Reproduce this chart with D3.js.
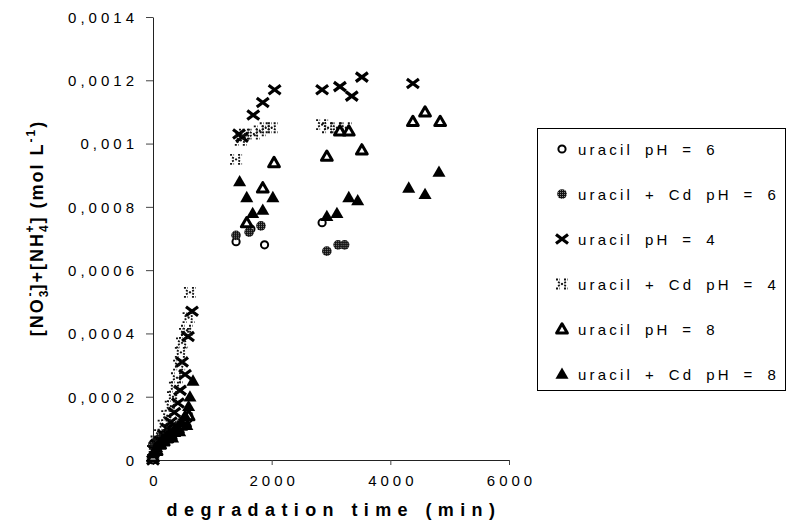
<!DOCTYPE html>
<html>
<head>
<meta charset="utf-8">
<script src="https://cdn.jsdelivr.net/npm/d3@7"></script>
<style>
  body { margin: 0; background: #fff; }
  text { font-family: "Liberation Sans", Arial, sans-serif; fill: #000; }
</style>
</head>
<body>
<svg id="chart"></svg>
<script>
// tick labels
const xTicks = [0, 2000, 4000, 6000]
const yTicks = [0, 0.0002, 0.0004, 0.0006, 0.0008, 0.001, 0.0012, 0.0014]
const yTickLabels = ["0", "0,0002", "0,0004", "0,0006", "0,0008", "0,001", "0,0012", "0,0014"]

// uracil pH = 6
const timeU6 = [0, 30, 60, 120, 180, 240, 300, 360, 420, 480, 540, 600, 1400, 1650, 1880, 2850]
const valU6 = [0, 0.00004, 0.00005, 0.00006, 0.00006, 0.00007, 0.00008, 0.00009, 0.0001, 0.00011, 0.00012, 0.00013,
    0.00069, 0.00073, 0.00068, 0.00075]

// uracil + Cd pH = 6
const timeCd6 = [0, 30, 60, 90, 120, 150, 180, 240, 270, 300, 360, 420, 480, 540, 600, 1400, 1620, 1820, 2930, 3120, 3230]
const valCd6 = [0.00005, 0.00005, 0.00006, 0.00006, 0.00007, 0.00006, 0.00007, 0.00008, 0.00007, 0.00009, 0.0001, 0.00011, 0.00012, 0.00013, 0.00014,
    0.00071, 0.00072, 0.00074, 0.00066, 0.00068, 0.00068]

// uracil pH = 4
const timeU4 = [0, 30, 60, 120, 180, 240, 300, 360, 420, 455, 490, 540, 590, 657,
    1450, 1500, 1690, 1850, 2050, 2850, 3150, 3350, 3520, 4380]
const valU4 = [0, 0.00003, 0.00005, 0.00006, 0.00008, 0.0001, 0.00012, 0.00015, 0.00018, 0.00022, 0.00031, 0.00027, 0.00039, 0.00047,
    0.00103, 0.00102, 0.00109, 0.00113, 0.00117, 0.00117, 0.00118, 0.00115, 0.00121, 0.00119]

// uracil + Cd pH = 4
const timeCd4 = [0, 30, 60, 120, 180, 240, 300, 337, 370, 404, 440, 470, 489, 540, 573, 600, 623,
    1400, 1480, 1550, 1700, 1800, 1900, 2000, 2850, 2950, 3100, 3250]
const valCd4 = [0.00003, 0.00004, 0.00006, 0.00008, 0.00011, 0.00014, 0.00017, 0.0002, 0.00023, 0.00026, 0.0003, 0.00034, 0.00037, 0.0004, 0.00041, 0.00045, 0.00053,
    0.00095, 0.00101, 0.00103, 0.00103, 0.00104, 0.00105, 0.00105, 0.00106, 0.00105, 0.00105, 0.00105]

// uracil pH = 8
const timeU8 = [0, 60, 120, 180, 240, 300, 360, 420, 480, 540, 600,
    1580, 1850, 2040, 2930, 3150, 3300, 3520, 4380, 4585, 4840]
const valU8 = [0.00001, 0.00003, 0.00005, 0.00006, 0.00007, 0.00008, 0.00009, 0.0001, 0.00011, 0.00012, 0.00014,
    0.00075, 0.00086, 0.00094, 0.00096, 0.00104, 0.00104, 0.00098, 0.00107, 0.0011, 0.00107]

// uracil + Cd pH = 8
const timeCd8 = [0, 30, 60, 120, 180, 240, 300, 330, 360, 420, 450, 480, 540, 570, 600, 623, 674,
    1460, 1580, 1680, 1850, 2020, 2930, 3100, 3300, 3450, 4310, 4585, 4820]
const valCd8 = [0.00002, 0.00003, 0.00004, 0.00005, 0.00006, 0.00007, 0.00008, 0.00007, 0.00009, 0.0001, 0.00009, 0.00012, 0.00014, 0.00011, 0.00017, 0.0002, 0.00025,
    0.00088, 0.00083, 0.00078, 0.00079, 0.00083, 0.00077, 0.00078, 0.00083, 0.00082, 0.00086, 0.00084, 0.00091]

const seriesNames = ["uracil pH = 6", "uracil + Cd pH = 6", "uracil pH = 4", "uracil + Cd pH = 4", "uracil pH = 8", "uracil + Cd pH = 8"]

const W = 796, H = 527
const svg = d3.select("#chart").attr("width", W).attr("height", H)

// hatched fill for the Cd pH 6 dots
const defs = svg.append("defs")
const pat = defs.append("pattern").attr("id", "dots")
    .attr("width", 2).attr("height", 2).attr("patternUnits", "userSpaceOnUse")
pat.append("rect").attr("width", 2).attr("height", 2).attr("fill", "#111")
pat.append("rect").attr("width", 1).attr("height", 1).attr("fill", "#888")

const x = d3.scaleLinear().domain([0, 6000]).range([153, 509])
const y = d3.scaleLinear().domain([0, 0.0014]).range([460, 17])

// axes
const yAxis = svg.append("g")
    .attr("transform", "translate(153,0)")
    .call(d3.axisLeft(y).tickValues(yTicks).tickFormat((d, i) => yTickLabels[i])
        .tickSize(7).tickSizeOuter(0).tickPadding(8))
yAxis.selectAll("text").style("font-size", "15px").style("letter-spacing", "4px")
    .attr("font-family", null).attr("dy", "0.36em")

const xAxis = svg.append("g")
    .attr("transform", "translate(0,460)")
    .call(d3.axisBottom(x).tickValues(xTicks).tickFormat(d3.format("d"))
        .tickSize(5).tickSizeOuter(0).tickPadding(10))
xAxis.selectAll("text").style("font-size", "15px").style("letter-spacing", "4px")
    .attr("font-family", null).attr("dx", "2px")

svg.selectAll(".domain").attr("stroke", "#222")
svg.selectAll(".tick line").attr("stroke", "#444")

// axis titles
svg.append("text")
    .attr("x", 334).attr("y", 516)
    .attr("text-anchor", "middle")
    .style("font-size", "18px").style("font-weight", "bold").style("letter-spacing", "6.4px")
    .text("degradation time (min)")

const yt = svg.append("text")
    .attr("transform", "translate(43,228) rotate(-90)")
    .attr("text-anchor", "middle")
    .style("font-size", "18px").style("font-weight", "bold").style("letter-spacing", "2px")
yt.append("tspan").text("[NO")
yt.append("tspan").attr("dy", 5).style("font-size", "12px").text("3")
yt.append("tspan").attr("dx", -8).attr("dy", -14).style("font-size", "12px").text("-")
yt.append("tspan").attr("dy", 9).text("]+[NH")
yt.append("tspan").attr("dy", 5).style("font-size", "12px").text("4")
yt.append("tspan").attr("dx", -9).attr("dy", -14).style("font-size", "12px").text("+")
yt.append("tspan").attr("dy", 9).text("] (mol L")
yt.append("tspan").attr("dy", -8).style("font-size", "12px").text("-1")
yt.append("tspan").attr("dy", 8).text(")")

// marker drawers
const crossPath = "M-6,-4.5L6,4.5M-6,4.5L6,-4.5"
const dotCrossPath = "M-6,-4.5L-2,-4.5M2,-4.5L6,-4.5M-4,-2L4,2M-4,2L4,-2M-6,4.5L-2,4.5M2,4.5L6,4.5"
const triOpen = d3.symbol(d3.symbolTriangle, 50)()
const triFill = d3.symbol(d3.symbolTriangle, 74)()

const drawMarker = (g, k) => {
    if (k === 0) {
        g.append("circle").attr("r", 3.6).attr("fill", "#fff").attr("stroke", "#000").attr("stroke-width", 2)
    } else if (k === 1) {
        g.append("circle").attr("r", 4.8).attr("fill", "url(#dots)")
    } else if (k === 2) {
        g.append("path").attr("d", crossPath).attr("stroke", "#000").attr("stroke-width", 3.2).attr("fill", "none")
    } else if (k === 3) {
        g.append("path").attr("d", dotCrossPath).attr("stroke", "#111").attr("stroke-width", 1.8)
            .attr("stroke-dasharray", "2,1.5").attr("fill", "none")
    } else if (k === 4) {
        g.append("path").attr("d", triOpen).attr("transform", "translate(0,1)")
            .attr("fill", "#fff").attr("stroke", "#000").attr("stroke-width", 3).attr("stroke-linejoin", "round")
    } else {
        g.append("path").attr("d", triFill).attr("transform", "translate(0,1)").attr("fill", "#000")
    }
}

const allSeries = [
    {times: timeU6, vals: valU6},
    {times: timeCd6, vals: valCd6},
    {times: timeU4, vals: valU4},
    {times: timeCd4, vals: valCd4},
    {times: timeU8, vals: valU8},
    {times: timeCd8, vals: valCd8}
]

const plot = svg.append("g")
allSeries.forEach((s, k) => {
    const pts = s.times.map((t, i) => ({t: t, v: s.vals[i]}))
    plot.selectAll(".s" + k)
        .data(pts)
        .join("g")
        .attr("class", "s" + k)
        .attr("transform", d => `translate(${x(d.t)},${y(d.v)})`)
        .each(function () { drawMarker(d3.select(this), k) })
})

// legend
const legend = svg.append("g")
legend.append("rect")
    .attr("x", 537.5).attr("y", 128.5).attr("width", 248).attr("height", 262)
    .attr("fill", "#fff").attr("stroke", "#000")

seriesNames.forEach((name, k) => {
    const cy = 149 + k * 45
    const m = legend.append("g").attr("transform", `translate(562,${cy})`)
    drawMarker(m, k)
    legend.append("text")
        .attr("x", 578).attr("y", cy + 5.5)
        .style("font-size", "15px").style("letter-spacing", "3.2px").style("word-spacing", "4.5px")
        .text(name)
})
</script>
</body>
</html>
